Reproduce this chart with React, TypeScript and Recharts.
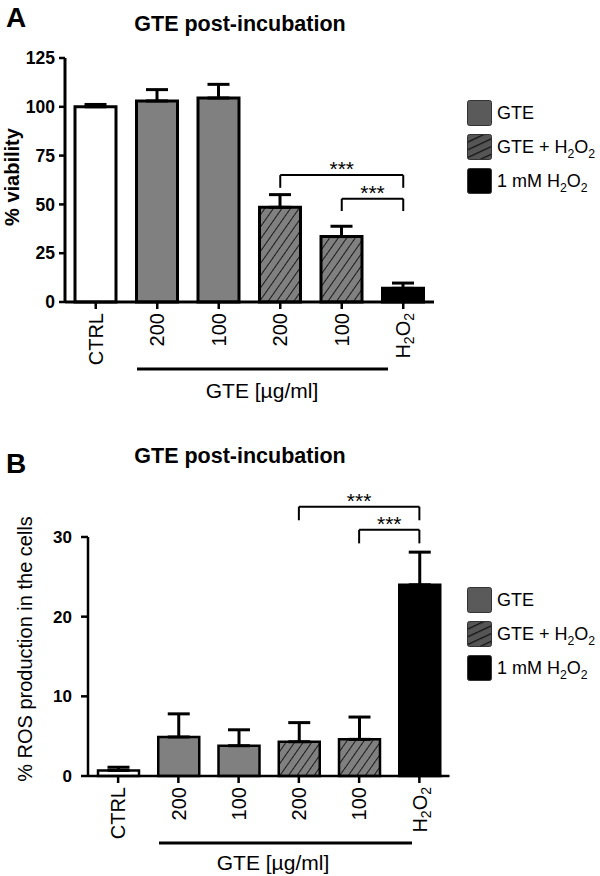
import React from 'react';
import { BarChart, Bar, XAxis, YAxis, Cell, ErrorBar, ReferenceLine, Legend, Label } from 'recharts';

const FONT = '"Liberation Sans", Arial, Helvetica, sans-serif';

// ---------- data ----------
const categoryIds = ['ctrl', 'gte200', 'gte100', 'mix200', 'mix100', 'h2o2'];
const tickLabels = ['CTRL', '200', '100', '200', '100', 'H2O2'];
const categoryGroups = ['control', 'gte', 'gte', 'gteH2O2', 'gteH2O2', 'h2o2'];

const viabilityValues = [100, 103, 104.5, 48.5, 33.5, 7];
const viabilityErrors = [1.2, 5.8, 7, 6.5, 5.3, 2.7];
const viabilityTicks = [0, 25, 50, 75, 100, 125];

const rosValues = [0.7, 4.9, 3.8, 4.3, 4.6, 24];
const rosErrors = [0.4, 2.9, 2.0, 2.4, 2.8, 4.1];
const rosTicks = [0, 10, 20, 30];

const legendGroups = ['gte', 'gteH2O2', 'h2o2'];
const legendLabels = ['GTE', 'GTE + H2O2', '1 mM H2O2'];

const panelLetters = ['A', 'B'];
const panelTitles = ['GTE post-incubation', 'GTE post-incubation'];
const yAxisTitles = ['% viability', '% ROS production in the cells'];
const groupAxisTitle = 'GTE [µg/ml]';

const viabilityBrackets = [
  { from: 'mix200', to: 'h2o2', y: 65, drop: 58.5, text: '***' },
  { from: 'mix100', to: 'h2o2', y: 52.9, drop: 46.6, text: '***' },
];
const rosBrackets = [
  { from: 'mix200', to: 'h2o2', y: 33.8, drop: 32.1, text: '***' },
  { from: 'mix100', to: 'h2o2', y: 30.9, drop: 29.2, text: '***' },
];

const buildRows = (values: number[], errors: number[]) =>
  categoryIds.map((id, i) => ({ id, value: values[i], errRange: [0, errors[i]], group: categoryGroups[i] }));

const viabilityRows = buildRows(viabilityValues, viabilityErrors);
const rosRows = buildRows(rosValues, rosErrors);

// ---------- helpers ----------
const fillFor = (group: string, hatchId: string) =>
  group === 'control' ? '#ffffff' : group === 'gte' ? '#808080' : group === 'gteH2O2' ? `url(#${hatchId})` : '#000000';

const chem = (s: string) => {
  const parts = s.split('H2O2');
  if (parts.length === 1) return s;
  return (
    <>
      {parts[0]}H<sub style={{ fontSize: '0.68em', lineHeight: 0 }}>2</sub>O
      <sub style={{ fontSize: '0.68em', lineHeight: 0 }}>2</sub>
      {parts[1]}
    </>
  );
};

const makeXTick = (fontSize: number) => (props: any) => {
  const { x, y, payload } = props;
  const idx = categoryIds.indexOf(payload.value);
  const label = tickLabels[idx];
  const sub = Math.round(fontSize * 0.68);
  return (
    <g transform={`translate(${x},${y})`}>
      <text transform="rotate(-90)" textAnchor="end" dy="0.36em" fontSize={fontSize} fontFamily={FONT} fill="#000">
        {label === 'H2O2' ? (
          <>
            H<tspan dy={4} fontSize={sub}>2</tspan>
            <tspan dy={-4}>O</tspan>
            <tspan dy={4} fontSize={sub}>2</tspan>
          </>
        ) : (
          label
        )}
      </text>
    </g>
  );
};

const makeGroupLabel = (lineStart: number, lineEnd: number, textX: number, textY: number) => (props: any) => {
  const { x, y } = props.viewBox;
  return (
    <g>
      <line x1={x + lineStart} x2={x + lineEnd} y1={y + 67} y2={y + 67} stroke="#000" strokeWidth={3} />
      <text x={x + textX} y={y + textY} textAnchor="middle" fontSize={21} fontFamily={FONT} fill="#000">
        {groupAxisTitle}
      </text>
    </g>
  );
};

const makeYTitle = (text: string, dx: number, dy: number, size: number, bold: boolean) => (props: any) => {
  const { x, y } = props.viewBox;
  const cx = x + dx;
  const cy = y + dy;
  return (
    <text
      x={cx}
      y={cy}
      transform={`rotate(-90, ${cx}, ${cy})`}
      textAnchor="middle"
      dy="0.36em"
      fontSize={size}
      fontWeight={bold ? 'bold' : 'normal'}
      fontFamily={FONT}
      fill="#000"
    >
      {text}
    </text>
  );
};

const makeLegend = (hatchId: string) => () => (
  <div style={{ fontFamily: FONT, fontSize: 18, color: '#000' }}>
    {legendGroups.map((g, i) => (
      <div key={g} style={{ display: 'flex', alignItems: 'center', height: 26, marginBottom: 8 }}>
        <svg width={25} height={26} style={{ display: 'block', marginRight: 5, flex: 'none' }}>
          <defs>
            <pattern id={`${hatchId}-leg`} patternUnits="userSpaceOnUse" width={7} height={7} patternTransform="rotate(65)">
              <rect width={7} height={7} fill="#555" />
              <line x1={0} y1={0} x2={0} y2={7} stroke="#111" strokeWidth={2.5} />
            </pattern>
          </defs>
          <rect
            x={0.5}
            y={0.5}
            width={24}
            height={25}
            rx={2}
            fill={g === 'gte' ? '#5a5a5a' : g === 'gteH2O2' ? `url(#${hatchId}-leg)` : '#000'}
            stroke="#333"
            strokeWidth={1}
          />
        </svg>
        <span style={{ whiteSpace: 'nowrap', lineHeight: '26px' }}>{chem(legendLabels[i])}</span>
      </div>
    ))}
  </div>
);

const renderBrackets = (brackets: any[]) =>
  brackets.flatMap((b, i) => [
    <ReferenceLine
      key={`h${i}`}
      segment={[{ x: b.from, y: b.y }, { x: b.to, y: b.y }]}
      stroke="#000"
      strokeWidth={2}
      ifOverflow="visible"
      label={{ value: b.text, position: 'top', offset: -1, fontSize: 21, fill: '#000', fontFamily: FONT }}
    />,
    <ReferenceLine
      key={`l${i}`}
      segment={[{ x: b.from, y: b.y }, { x: b.from, y: b.drop }]}
      stroke="#000"
      strokeWidth={2}
      ifOverflow="visible"
    />,
    <ReferenceLine
      key={`r${i}`}
      segment={[{ x: b.to, y: b.y }, { x: b.to, y: b.drop }]}
      stroke="#000"
      strokeWidth={2}
      ifOverflow="visible"
    />,
  ]);

const hatchDefs = (id: string) => (
  <defs>
    <pattern id={id} patternUnits="userSpaceOnUse" width={7} height={7} patternTransform="rotate(35)">
      <rect width={7} height={7} fill="#808080" />
      <line x1={0} y1={0} x2={0} y2={7} stroke="#000" strokeWidth={1.6} />
    </pattern>
  </defs>
);

export default function App() {
  return (
    <div style={{ position: 'absolute', left: 0, top: 0, width: 600, height: 876, background: '#fff' }}>
      <svg width={600} height={876} style={{ position: 'absolute', left: 0, top: 0 }}>
        <text x={6} y={27} fontSize={28} fontWeight="bold" fontFamily={FONT} fill="#000">{panelLetters[0]}</text>
        <text x={240} y={31} textAnchor="middle" fontSize={21.5} fontWeight="bold" fontFamily={FONT} fill="#000">{panelTitles[0]}</text>
        <text x={6} y={473} fontSize={28} fontWeight="bold" fontFamily={FONT} fill="#000">{panelLetters[1]}</text>
        <text x={240} y={463} textAnchor="middle" fontSize={21.5} fontWeight="bold" fontFamily={FONT} fill="#000">{panelTitles[1]}</text>
      </svg>

      {/* Panel A */}
      <div style={{ position: 'absolute', left: 0, top: 0 }}>
        <BarChart width={600} height={420} data={viabilityRows} margin={{ top: 58, right: 166, bottom: 38, left: 5 }}>
          {hatchDefs('hatchA')}
          <XAxis
            dataKey="id"
            interval={0}
            axisLine={{ stroke: '#000', strokeWidth: 3 }}
            tickLine={{ stroke: '#000', strokeWidth: 2.5 }}
            tickSize={7}
            tickMargin={4}
            height={80}
            tick={makeXTick(20)}
          >
            <Label content={makeGroupLabel(72, 323, 197, 96)} />
          </XAxis>
          <YAxis
            width={60}
            domain={[0, 125]}
            ticks={viabilityTicks}
            interval={0}
            axisLine={{ stroke: '#000', strokeWidth: 3 }}
            tickLine={{ stroke: '#000', strokeWidth: 2.5 }}
            tickSize={6}
            tickMargin={4}
            tick={{ fontSize: 17.5, fontWeight: 'bold', fill: '#000', fontFamily: FONT }}
          >
            <Label content={makeYTitle(yAxisTitles[0], 6.5, 119, 20, true)} />
          </YAxis>
          <Bar dataKey="value" barSize={41} stroke="#000" strokeWidth={3} isAnimationActive={false}>
            {viabilityRows.map((r) => (
              <Cell key={r.id} fill={fillFor(r.group, 'hatchA')} />
            ))}
            <ErrorBar dataKey="errRange" width={11} strokeWidth={3} stroke="#000" direction="y" />
          </Bar>
          {renderBrackets(viabilityBrackets)}
          <Legend
            layout="vertical"
            align="center"
            verticalAlign="middle"
            content={makeLegend('hatchA')}
            wrapperStyle={{ position: 'absolute', left: 467, top: 100, width: 133 }}
          />
        </BarChart>
      </div>

      {/* Panel B */}
      <div style={{ position: 'absolute', left: 0, top: 430 }}>
        <BarChart width={600} height={446} data={rosRows} margin={{ top: 107, right: 150.5, bottom: 20, left: 8 }}>
          {hatchDefs('hatchB')}
          <XAxis
            dataKey="id"
            interval={0}
            axisLine={{ stroke: '#000', strokeWidth: 2.5 }}
            tickLine={{ stroke: '#000', strokeWidth: 2.5 }}
            tickSize={7}
            tickMargin={4}
            height={80}
            tick={makeXTick(20)}
          >
            <Label content={makeGroupLabel(71, 324, 185, 94)} />
          </XAxis>
          <YAxis
            width={80}
            domain={[0, 30]}
            ticks={rosTicks}
            interval={0}
            axisLine={{ stroke: '#000', strokeWidth: 2.5 }}
            tickLine={{ stroke: '#000', strokeWidth: 2.5 }}
            tickSize={7}
            tickMargin={9}
            tick={{ fontSize: 17, fontWeight: 'bold', fill: '#000', fontFamily: FONT }}
          >
            <Label content={makeYTitle(yAxisTitles[1], 17, 112, 20, false)} />
          </YAxis>
          <Bar dataKey="value" barSize={41} stroke="#000" strokeWidth={2.5} isAnimationActive={false}>
            {rosRows.map((r) => (
              <Cell key={r.id} fill={fillFor(r.group, 'hatchB')} />
            ))}
            <ErrorBar dataKey="errRange" width={11} strokeWidth={3} stroke="#000" direction="y" />
          </Bar>
          {renderBrackets(rosBrackets)}
          <Legend
            layout="vertical"
            align="center"
            verticalAlign="middle"
            content={makeLegend('hatchB')}
            wrapperStyle={{ position: 'absolute', left: 467, top: 157, width: 133 }}
          />
        </BarChart>
      </div>
    </div>
  );
}
